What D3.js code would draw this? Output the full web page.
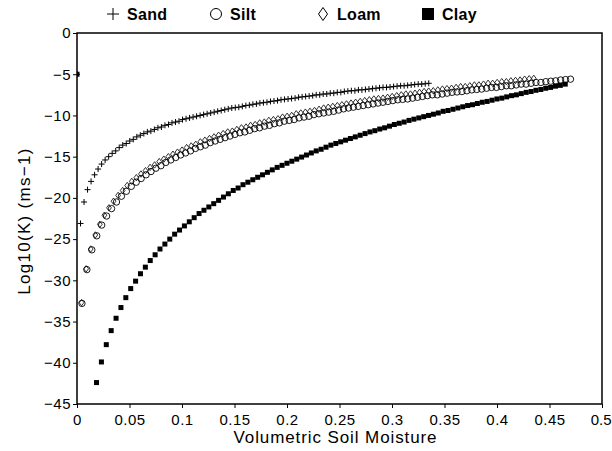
<!DOCTYPE html>
<html>
<head>
<meta charset="utf-8">
<script src="https://cdn.jsdelivr.net/npm/d3@7"></script>
<style>
  body { margin: 0; background: #fff; }
  svg { display: block; }
  text { font-family: "Liberation Sans", Arial, sans-serif; fill: #000; }
</style>
</head>
<body>
<div id="chart"></div>
<script>
// Log10 of hydraulic conductivity, one value per moisture step
// (index i sits at x = i * step, index 0 is the dry end)
var sandStep = 0.00335;
var sandK = [-5,
  -23.1,-20.5,-19.0,-18.0,-17.2,-16.5,-15.9,-15.4,-15.0,-14.6,
  -14.3,-13.9,-13.6,-13.4,-13.1,-12.9,-12.6,-12.4,-12.2,-12.0,
  -11.9,-11.7,-11.5,-11.4,-11.2,-11.1,-10.9,-10.8,-10.7,-10.5,
  -10.4,-10.3,-10.2,-10.1,-10.0,-9.9,-9.8,-9.7,-9.6,-9.5,
  -9.4,-9.3,-9.2,-9.1,-9.05,-9.0,-8.9,-8.8,-8.75,-8.65,
  -8.6,-8.5,-8.45,-8.4,-8.3,-8.25,-8.2,-8.1,-8.05,-8.0,
  -7.95,-7.9,-7.8,-7.75,-7.7,-7.65,-7.6,-7.5,-7.5,-7.4,
  -7.4,-7.3,-7.3,-7.2,-7.2,-7.1,-7.05,-7.0,-7.0,-6.9,
  -6.9,-6.85,-6.8,-6.75,-6.7,-6.65,-6.6,-6.6,-6.55,-6.5,
  -6.45,-6.4,-6.4,-6.35,-6.3,-6.25,-6.2,-6.2,-6.15,-6.1];

var siltStep = 0.0047;
var siltK = [null,
  -32.8,-28.7,-26.3,-24.6,-23.3,-22.2,-21.3,-20.5,-19.8,-19.2,
  -18.6,-18.1,-17.65,-17.2,-16.8,-16.4,-16.1,-15.7,-15.4,-15.1,
  -14.8,-14.55,-14.3,-14.0,-13.8,-13.6,-13.3,-13.1,-12.9,-12.7,
  -12.5,-12.3,-12.1,-12.0,-11.8,-11.6,-11.5,-11.3,-11.2,-11.0,
  -10.9,-10.7,-10.6,-10.5,-10.3,-10.2,-10.1,-9.9,-9.8,-9.7,
  -9.6,-9.5,-9.35,-9.2,-9.1,-9.0,-8.9,-8.8,-8.7,-8.6,
  -8.5,-8.4,-8.3,-8.2,-8.1,-8.05,-8.0,-7.9,-7.8,-7.7,
  -7.6,-7.5,-7.5,-7.4,-7.3,-7.2,-7.15,-7.1,-7.0,-6.9,
  -6.85,-6.8,-6.7,-6.6,-6.6,-6.5,-6.4,-6.4,-6.3,-6.2,
  -6.2,-6.1,-6.0,-6.0,-5.9,-5.85,-5.8,-5.7,-5.65,-5.6];

var loamStep = 0.00435;
var loamK = [null,
  -32.7,-28.6,-26.2,-24.5,-23.2,-22.1,-21.2,-20.4,-19.7,-19.1,
  -18.5,-18.0,-17.55,-17.1,-16.7,-16.3,-16.0,-15.6,-15.3,-15.0,
  -14.7,-14.45,-14.2,-13.9,-13.7,-13.5,-13.2,-13.0,-12.8,-12.6,
  -12.4,-12.2,-12.0,-11.9,-11.7,-11.5,-11.4,-11.2,-11.1,-10.9,
  -10.8,-10.6,-10.5,-10.4,-10.2,-10.1,-10.0,-9.8,-9.7,-9.6,
  -9.5,-9.4,-9.25,-9.1,-9.0,-8.9,-8.8,-8.7,-8.6,-8.5,
  -8.4,-8.3,-8.2,-8.1,-8.0,-7.95,-7.9,-7.8,-7.7,-7.6,
  -7.5,-7.4,-7.4,-7.3,-7.2,-7.1,-7.05,-7.0,-6.9,-6.8,
  -6.75,-6.7,-6.6,-6.5,-6.5,-6.4,-6.3,-6.3,-6.2,-6.1,
  -6.1,-6.0,-5.9,-5.9,-5.8,-5.75,-5.7,-5.6,-5.55,-5.5];

var clayStep = 0.00465;
var clayK = [-5,
  null,null,null,-42.4,-39.9,-37.8,-36.1,-34.6,-33.3,-32.1,
  -31.0,-30.1,-29.2,-28.4,-27.6,-26.9,-26.2,-25.6,-25.0,-24.4,
  -23.9,-23.4,-22.9,-22.4,-21.9,-21.5,-21.1,-20.7,-20.3,-19.9,
  -19.5,-19.1,-18.8,-18.4,-18.1,-17.8,-17.5,-17.2,-16.9,-16.6,
  -16.3,-16.05,-15.8,-15.55,-15.3,-15.05,-14.8,-14.55,-14.3,-14.1,
  -13.85,-13.6,-13.4,-13.2,-13.0,-12.8,-12.6,-12.4,-12.2,-12.0,
  -11.85,-11.65,-11.5,-11.3,-11.1,-10.95,-10.8,-10.6,-10.45,-10.3,
  -10.15,-10.0,-9.85,-9.7,-9.5,-9.4,-9.25,-9.1,-8.95,-8.8,
  -8.7,-8.55,-8.4,-8.3,-8.15,-8.0,-7.9,-7.75,-7.6,-7.5,
  -7.35,-7.2,-7.1,-6.95,-6.85,-6.7,-6.6,-6.45,-6.35,-6.2];

var xTicks = [0, 0.05, 0.1, 0.15, 0.2, 0.25, 0.3, 0.35, 0.4, 0.45, 0.5];
var yTicks = [0, -5, -10, -15, -20, -25, -30, -35, -40, -45];
var legendNames = ["Sand", "Silt", "Loam", "Clay"];

//SVG area and plot box
var svgWidth = 612;
var svgHeight = 451;
var margin = {top: 33, right: 10, bottom: 47, left: 77};
var chartWidth = svgWidth - margin.left - margin.right;
var chartHeight = svgHeight - margin.top - margin.bottom;

var svg = d3.select("#chart")
  .append("svg")
  .attr("width", svgWidth)
  .attr("height", svgHeight);

var chart = svg.append("g")
  .attr("transform", `translate(${margin.left},${margin.top})`);

var xScale = d3.scaleLinear().domain([0, 0.5]).range([0, chartWidth]);
var yScale = d3.scaleLinear().domain([-45, 0]).range([chartHeight, 0]);

// marker shapes
var plusPath = function(s) { return `M${-s},0H${s}M0,${-s}V${s}`; };
var diamondPath = function(w, h) { return `M0,${-h}L${w},0L0,${h}L${-w},0Z`; };

function toPoints(values, step) {
  return values
    .map(function(v, i) { return {x: i * step, y: v}; })
    .filter(function(d) { return d.y !== null; });
}

svg.append("clipPath").attr("id", "plotClip")
  .append("rect")
  .attr("x", 0).attr("y", 0)
  .attr("width", chartWidth).attr("height", chartHeight);

var marks = chart.append("g").attr("clip-path", "url(#plotClip)");

// Sand: thin plus signs
marks.append("g").selectAll("path")
  .data(toPoints(sandK, sandStep))
  .enter()
  .append("path")
  .attr("transform", function(d) { return `translate(${xScale(d.x)},${yScale(d.y)})`; })
  .attr("d", plusPath(3))
  .attr("stroke", "#000")
  .attr("stroke-width", 1)
  .attr("fill", "none");

// Loam: open diamonds
marks.append("g").selectAll("path")
  .data(toPoints(loamK, loamStep))
  .enter()
  .append("path")
  .attr("transform", function(d) { return `translate(${xScale(d.x)},${yScale(d.y)})`; })
  .attr("d", diamondPath(2.4, 3.2))
  .attr("stroke", "#000")
  .attr("stroke-width", 0.8)
  .attr("fill", "none");

// Silt: open circles
marks.append("g").selectAll("circle")
  .data(toPoints(siltK, siltStep))
  .enter()
  .append("circle")
  .attr("cx", function(d) { return xScale(d.x); })
  .attr("cy", function(d) { return yScale(d.y); })
  .attr("r", 3.2)
  .attr("stroke", "#000")
  .attr("stroke-width", 0.9)
  .attr("fill", "none");

// Clay: filled squares
marks.append("g").selectAll("rect")
  .data(toPoints(clayK, clayStep))
  .enter()
  .append("rect")
  .attr("x", function(d) { return xScale(d.x) - 2.5; })
  .attr("y", function(d) { return yScale(d.y) - 2.5; })
  .attr("width", 5)
  .attr("height", 5)
  .attr("fill", "#000");

// axes
var bottomAxis = d3.axisBottom(xScale)
  .tickValues(xTicks)
  .tickSize(4)
  .tickFormat(function(d) { return String(+d.toFixed(2)); });
var leftAxis = d3.axisLeft(yScale)
  .tickValues(yTicks)
  .tickSize(4);

var gx = chart.append("g")
  .attr("transform", `translate(0, ${chartHeight})`)
  .call(bottomAxis);
var gy = chart.append("g").call(leftAxis);

[gx, gy].forEach(function(g) {
  g.select(".domain").remove();
  g.selectAll("line").attr("stroke", "#000").attr("stroke-width", 1);
  g.selectAll("text")
    .style("font-family", "'Liberation Sans', Arial, sans-serif")
    .style("font-size", "15px")
    .style("letter-spacing", "0.5px")
    .attr("fill", "#000");
});
gx.selectAll("text").attr("dy", "0.95em");
gy.selectAll("text").attr("x", -6);
// last x label sits at the window edge: pull it in so it stays whole
gx.selectAll(".tick text")
  .filter(function(d) { return d === 0.5; })
  .style("letter-spacing", "0px")
  .attr("text-anchor", "end")
  .attr("x", 9);

// frame
chart.append("rect")
  .attr("width", chartWidth)
  .attr("height", chartHeight)
  .attr("fill", "none")
  .attr("stroke", "#000")
  .attr("stroke-width", 1.5);

// axis titles
svg.append("text")
  .attr("x", margin.left + chartWidth / 2 - 4)
  .attr("y", 443)
  .attr("text-anchor", "middle")
  .style("font-size", "17px")
  .style("letter-spacing", "0.9px")
  .text("Volumetric Soil Moisture");

svg.append("text")
  .attr("transform", "translate(30, 221) rotate(-90)")
  .attr("text-anchor", "middle")
  .style("font-size", "17px")
  .style("letter-spacing", "1.3px")
  .text("Log10(K)  (ms\u22121)");

// legend across the top
var legendX = [113, 216, 323, 428];
var legend = svg.append("g");
legendNames.forEach(function(name, i) {
  var g = legend.append("g").attr("transform", `translate(${legendX[i]}, 14)`);
  if (i === 0) {
    g.append("path").attr("d", plusPath(6)).attr("stroke", "#000").attr("stroke-width", 1).attr("fill", "none");
  } else if (i === 1) {
    g.append("circle").attr("r", 5.5).attr("stroke", "#000").attr("stroke-width", 1).attr("fill", "none");
  } else if (i === 2) {
    g.append("path").attr("d", diamondPath(4.5, 6.5)).attr("stroke", "#000").attr("stroke-width", 1).attr("fill", "none");
  } else {
    g.append("rect").attr("x", -6).attr("y", -6).attr("width", 12).attr("height", 12).attr("fill", "#000");
  }
  g.append("text")
    .attr("x", 14)
    .attr("y", 6)
    .style("font-size", "16px")
    .style("font-weight", "bold")
    .style("letter-spacing", "0.3px")
    .text(name);
});
</script>
</body>
</html>
